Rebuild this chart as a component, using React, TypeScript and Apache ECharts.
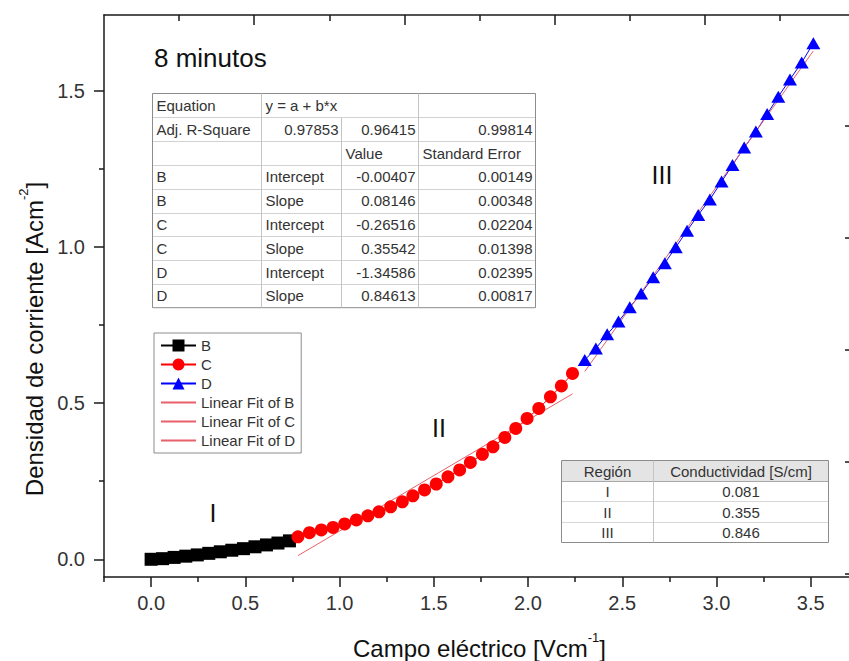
import React, { useEffect, useRef } from 'react';
import * as echarts from 'echarts';

const FONT = "'Liberation Sans', Arial, Helvetica, sans-serif";

// ---- axis ticks ----
const xTickValues = [0, 0.5, 1, 1.5, 2, 2.5, 3, 3.5];
const xMinorTickValues = [-0.25, 0.25, 0.75, 1.25, 1.75, 2.25, 2.75, 3.25];
const yTickValues = [0, 0.5, 1, 1.5];
const yMinorTickValues = [0.25, 0.75, 1.25];
const topTickValues = [2, 4, 6, 8];
const topMinorTickValues = [1, 3, 5, 7, 9];
const rightTickValues = [0, 1, 2, 3, 4];
const rightMinorTickValues = [0.5, 1.5, 2.5, 3.5, 4.5];

// ---- data ----
const bX = [0, 0.061, 0.122, 0.184, 0.245, 0.306, 0.367, 0.428, 0.49, 0.551, 0.612, 0.673, 0.734];
const bY = [0.0, 0.002, 0.006, 0.01, 0.014, 0.019, 0.024, 0.029, 0.034, 0.04, 0.046, 0.052, 0.059];

const cX = [0.779, 0.84, 0.903, 0.965, 1.027, 1.089, 1.15, 1.209, 1.271, 1.333, 1.389, 1.451, 1.513,
  1.575, 1.637, 1.694, 1.758, 1.814, 1.877, 1.935, 1.995, 2.057, 2.119, 2.177, 2.236];
const cY = [0.072, 0.085, 0.094, 0.102, 0.113, 0.126, 0.139, 0.152, 0.168, 0.184, 0.203, 0.222, 0.241,
  0.264, 0.286, 0.31, 0.336, 0.36, 0.39, 0.419, 0.451, 0.483, 0.52, 0.555, 0.595];

const dX = [2.301, 2.36, 2.42, 2.48, 2.54, 2.6, 2.664, 2.726, 2.784, 2.844, 2.903, 2.965, 3.027,
  3.085, 3.147, 3.209, 3.269, 3.328, 3.39, 3.452, 3.514];
const dY = [0.638, 0.675, 0.72, 0.761, 0.807, 0.851, 0.903, 0.948, 0.999, 1.052, 1.102, 1.152, 1.209,
  1.262, 1.318, 1.369, 1.425, 1.481, 1.536, 1.59, 1.652];

// ---- linear fits ----
const fitGroups = ['B', 'C', 'D'];
const fitIntercepts = [-0.00407, -0.26516, -1.34586];
const fitInterceptErr = [0.00149, 0.02204, 0.02395];
const fitSlopes = [0.08146, 0.35542, 0.84613];
const fitSlopeErr = [0.00348, 0.01398, 0.00817];
const adjR2 = ['0.97853', '0.96415', '0.99814'];

// ---- region table ----
const regions = ['I', 'II', 'III'];
const conductivities = [0.081, 0.355, 0.846];

const pts = (xs: number[], ys: number[]) => xs.map((x, i) => [x, ys[i]]);
const groupsX = [bX, cX, dX];
const fitLine = (g: number) => {
  const xs = groupsX[g];
  const x0 = Math.min(...xs);
  const x1 = Math.max(...xs);
  return [
    [x0, fitIntercepts[g] + fitSlopes[g] * x0],
    [x1, fitIntercepts[g] + fitSlopes[g] * x1],
  ];
};

function buildTable1(): any[] {
  const cols = [152.5, 261.5, 341.5, 418.5, 535.5];
  const top = 93.5;
  const rowH = 23.8;
  const nRows = 9;
  const rows: string[][] = [
    ['Equation', 'y = a + b*x', '', ''],
    ['Adj. R-Square', adjR2[0], adjR2[1], adjR2[2]],
    ['', '', 'Value', 'Standard Error'],
  ];
  fitGroups.forEach((g, i) => {
    rows.push([g, 'Intercept', fitIntercepts[i].toFixed(5), fitInterceptErr[i].toFixed(5)]);
    rows.push([g, 'Slope', fitSlopes[i].toFixed(5), fitSlopeErr[i].toFixed(5)]);
  });
  const els: any[] = [];
  const bottom = top + rowH * nRows;
  els.push({
    type: 'rect',
    shape: { x: cols[0], y: top, width: cols[4] - cols[0], height: bottom - top },
    style: { fill: '#ffffff', stroke: '#8c8c8c', lineWidth: 1 },
    z: 10,
  });
  for (let r = 1; r < nRows; r++) {
    const y = Math.round(top + r * rowH) + 0.5;
    els.push({
      type: 'line',
      shape: { x1: cols[0] + 0.5, y1: y, x2: cols[4] - 0.5, y2: y },
      style: { stroke: '#d2d2d2', lineWidth: 1 },
      z: 10,
    });
  }
  for (let c = 1; c < 4; c++) {
    const y1 = c === 2 ? Math.round(top + rowH) + 0.5 : top;
    els.push({
      type: 'line',
      shape: { x1: cols[c], y1, x2: cols[c], y2: bottom },
      style: { stroke: '#c4c4c4', lineWidth: 1 },
      z: 10,
    });
  }
  rows.forEach((row, r) => {
    row.forEach((txt, c) => {
      if (!txt) return;
      const numeric = /^-?\d/.test(txt);
      els.push({
        type: 'text',
        x: numeric ? cols[c + 1] - 3 : cols[c] + 4,
        y: top + r * rowH + rowH / 2,
        style: {
          text: txt,
          fontSize: 15,
          fontFamily: FONT,
          fill: '#333333',
          align: numeric ? 'right' : 'left',
          verticalAlign: 'middle',
        },
        z: 11,
      });
    });
  });
  return els;
}

function buildTable2(): any[] {
  const cols = [561.5, 653.5, 828.5];
  const rowsY = [460.5, 481.5, 501.5, 522.5, 542.5];
  const els: any[] = [];
  els.push({
    type: 'rect',
    shape: { x: cols[0], y: rowsY[0], width: cols[2] - cols[0], height: rowsY[4] - rowsY[0] },
    style: { fill: '#ffffff', stroke: '#8c8c8c', lineWidth: 1 },
    z: 10,
  });
  els.push({
    type: 'rect',
    shape: { x: cols[0] + 0.5, y: rowsY[0] + 0.5, width: cols[2] - cols[0] - 1, height: rowsY[1] - rowsY[0] - 1 },
    style: { fill: '#e4e4e4' },
    z: 10,
  });
  for (let r = 1; r < 4; r++) {
    els.push({
      type: 'line',
      shape: { x1: cols[0] + 0.5, y1: rowsY[r], x2: cols[2] - 0.5, y2: rowsY[r] },
      style: { stroke: r === 1 ? '#a8a8a8' : '#d8d8d8', lineWidth: 1 },
      z: 10,
    });
  }
  els.push({
    type: 'line',
    shape: { x1: cols[1], y1: rowsY[0], x2: cols[1], y2: rowsY[4] },
    style: { stroke: '#c4c4c4', lineWidth: 1 },
    z: 10,
  });
  const rows: string[][] = [['Región', 'Conductividad [S/cm]']];
  regions.forEach((rg, i) => rows.push([rg, conductivities[i].toFixed(3)]));
  rows.forEach((row, r) => {
    row.forEach((txt, c) => {
      els.push({
        type: 'text',
        x: (cols[c] + cols[c + 1]) / 2,
        y: (rowsY[r] + rowsY[r + 1]) / 2,
        style: {
          text: txt,
          fontSize: 15,
          fontFamily: FONT,
          fill: '#333333',
          align: 'center',
          verticalAlign: 'middle',
        },
        z: 11,
      });
    });
  });
  return els;
}

const supRich = {
  sup: { fontSize: 13, lineHeight: 13, verticalAlign: 'top', fontFamily: FONT, color: '#111' },
};

function buildOption(): any {
  const axisLineStyle = { color: '#1a1a1a', width: 1.5 };
  const hiddenLabel = { show: false };
  const baseAxis = { type: 'value', splitLine: { show: false }, axisPointer: { show: false } };
  return {
    animation: false,
    backgroundColor: '#ffffff',
    grid: { left: 104, top: 15, right: -6, bottom: 84, containLabel: false, outerBoundsMode: 'none' },
    legend: {
      orient: 'vertical',
      left: 154,
      top: 333,
      padding: [5, 6, 5, 6],
      itemWidth: 35,
      itemHeight: 15,
      itemGap: 4,
      borderColor: '#8c8c8c',
      borderWidth: 1,
      backgroundColor: '#ffffff',
      textStyle: { fontSize: 15, color: '#333333', fontFamily: FONT },
      data: [
        { name: 'B' },
        { name: 'C' },
        { name: 'D' },
        { name: 'Linear Fit of B', itemStyle: { opacity: 0 } },
        { name: 'Linear Fit of C', itemStyle: { opacity: 0 } },
        { name: 'Linear Fit of D', itemStyle: { opacity: 0 } },
      ],
    },
    xAxis: [
      {
        ...baseAxis,
        min: -0.25,
        max: 3.735,
        position: 'bottom',
        axisLine: { show: true, onZero: false, lineStyle: axisLineStyle },
        axisTick: { show: true, inside: false, length: 10, customValues: xTickValues, lineStyle: axisLineStyle },
        axisLabel: {
          show: true,
          customValues: xTickValues,
          formatter: (v: number) => v.toFixed(1),
          fontSize: 20,
          color: '#333333',
          fontFamily: FONT,
          margin: 16,
        },
        name: 'Campo eléctrico [Vcm{sup|-1}]',
        nameLocation: 'middle',
        nameGap: 54,
        nameTextStyle: { fontSize: 24, lineHeight: 34, color: '#111111', fontFamily: FONT, rich: supRich },
      },
      {
        ...baseAxis,
        min: -0.25,
        max: 3.735,
        position: 'bottom',
        axisLine: { show: false, onZero: false },
        axisTick: { show: true, inside: false, length: 5, customValues: xMinorTickValues, lineStyle: axisLineStyle },
        axisLabel: hiddenLabel,
      },
      {
        ...baseAxis,
        min: 0,
        max: 10,
        position: 'top',
        axisLine: { show: true, onZero: false, lineStyle: axisLineStyle },
        axisTick: { show: true, inside: true, length: 10, customValues: topTickValues, lineStyle: axisLineStyle },
        axisLabel: hiddenLabel,
      },
      {
        ...baseAxis,
        min: 0,
        max: 10,
        position: 'top',
        axisLine: { show: false, onZero: false },
        axisTick: { show: true, inside: true, length: 6, customValues: topMinorTickValues, lineStyle: axisLineStyle },
        axisLabel: hiddenLabel,
      },
    ],
    yAxis: [
      {
        ...baseAxis,
        min: -0.0567,
        max: 1.7423,
        position: 'left',
        axisLine: { show: true, onZero: false, lineStyle: axisLineStyle },
        axisTick: { show: true, inside: false, length: 10, customValues: yTickValues, lineStyle: axisLineStyle },
        axisLabel: {
          show: true,
          customValues: yTickValues,
          formatter: (v: number) => v.toFixed(1),
          fontSize: 20,
          color: '#333333',
          fontFamily: FONT,
          margin: 19,
        },
      },
      {
        ...baseAxis,
        min: -0.0567,
        max: 1.7423,
        position: 'left',
        axisLine: { show: false, onZero: false },
        axisTick: { show: true, inside: false, length: 5, customValues: yMinorTickValues, lineStyle: axisLineStyle },
        axisLabel: hiddenLabel,
      },
      {
        ...baseAxis,
        min: -0.027,
        max: 4.991,
        position: 'right',
        axisLine: { show: true, onZero: false, lineStyle: axisLineStyle },
        axisTick: { show: true, inside: true, length: 10, customValues: rightTickValues, lineStyle: axisLineStyle },
        axisLabel: hiddenLabel,
      },
      {
        ...baseAxis,
        min: -0.027,
        max: 4.991,
        position: 'right',
        axisLine: { show: false, onZero: false },
        axisTick: { show: true, inside: true, length: 6, customValues: rightMinorTickValues, lineStyle: axisLineStyle },
        axisLabel: hiddenLabel,
      },
    ],
    series: [
      {
        name: 'B',
        type: 'line',
        data: pts(bX, bY),
        symbol: 'rect',
        symbolSize: 13,
        itemStyle: { color: '#000000' },
        lineStyle: { color: '#000000', width: 1 },
      },
      {
        name: 'C',
        type: 'line',
        data: pts(cX, cY),
        symbol: 'circle',
        symbolSize: 13,
        itemStyle: { color: '#ff0000' },
        lineStyle: { color: '#ff0000', width: 1 },
      },
      {
        name: 'D',
        type: 'line',
        data: pts(dX, dY),
        symbol: 'triangle',
        symbolSize: [14, 12],
        itemStyle: { color: '#0000ff' },
        lineStyle: { color: '#0000ff', width: 1 },
      },
      ...fitGroups.map((g, i) => ({
        name: 'Linear Fit of ' + g,
        type: 'line',
        data: fitLine(i),
        symbol: 'none',
        showSymbol: false,
        itemStyle: { color: '#e8606a' },
        lineStyle: { color: '#e8606a', width: 1 },
        z: 3,
      })),
    ],
    graphic: {
      elements: [
        {
          type: 'text',
          x: 34,
          y: 339,
          rotation: Math.PI / 2,
          style: {
            text: 'Densidad de corriente [Acm{sup|-2}]',
            fontSize: 24,
            lineHeight: 34,
            fontFamily: FONT,
            fill: '#111111',
            align: 'center',
            verticalAlign: 'middle',
            rich: {
              sup: { fontSize: 13, lineHeight: 13, verticalAlign: 'top', fontFamily: FONT, fill: '#111111' },
            },
          },
        },
        {
          type: 'text',
          x: 154,
          y: 58,
          style: { text: '8 minutos', fontSize: 26, fontFamily: FONT, fill: '#111111', align: 'left', verticalAlign: 'middle' },
        },
        {
          type: 'text',
          x: 213,
          y: 513,
          style: { text: 'I', fontSize: 25, fontFamily: FONT, fill: '#111111', align: 'center', verticalAlign: 'middle' },
        },
        {
          type: 'text',
          x: 439,
          y: 428,
          style: { text: 'II', fontSize: 25, fontFamily: FONT, fill: '#111111', align: 'center', verticalAlign: 'middle' },
        },
        {
          type: 'text',
          x: 662,
          y: 175,
          style: { text: 'III', fontSize: 25, fontFamily: FONT, fill: '#111111', align: 'center', verticalAlign: 'middle' },
        },
        ...buildTable1(),
        ...buildTable2(),
      ],
    },
  };
}

export default function App() {
  const ref = useRef<HTMLDivElement>(null);
  useEffect(() => {
    document.body.style.margin = '0';
    if (!ref.current) return;
    const chart = echarts.init(ref.current, null, { renderer: 'svg' });
    chart.setOption(buildOption());
    return () => chart.dispose();
  }, []);
  return (
    <div
      ref={ref}
      style={{ position: 'fixed', left: 0, top: 0, width: 849, height: 661, background: '#ffffff' }}
    />
  );
}
